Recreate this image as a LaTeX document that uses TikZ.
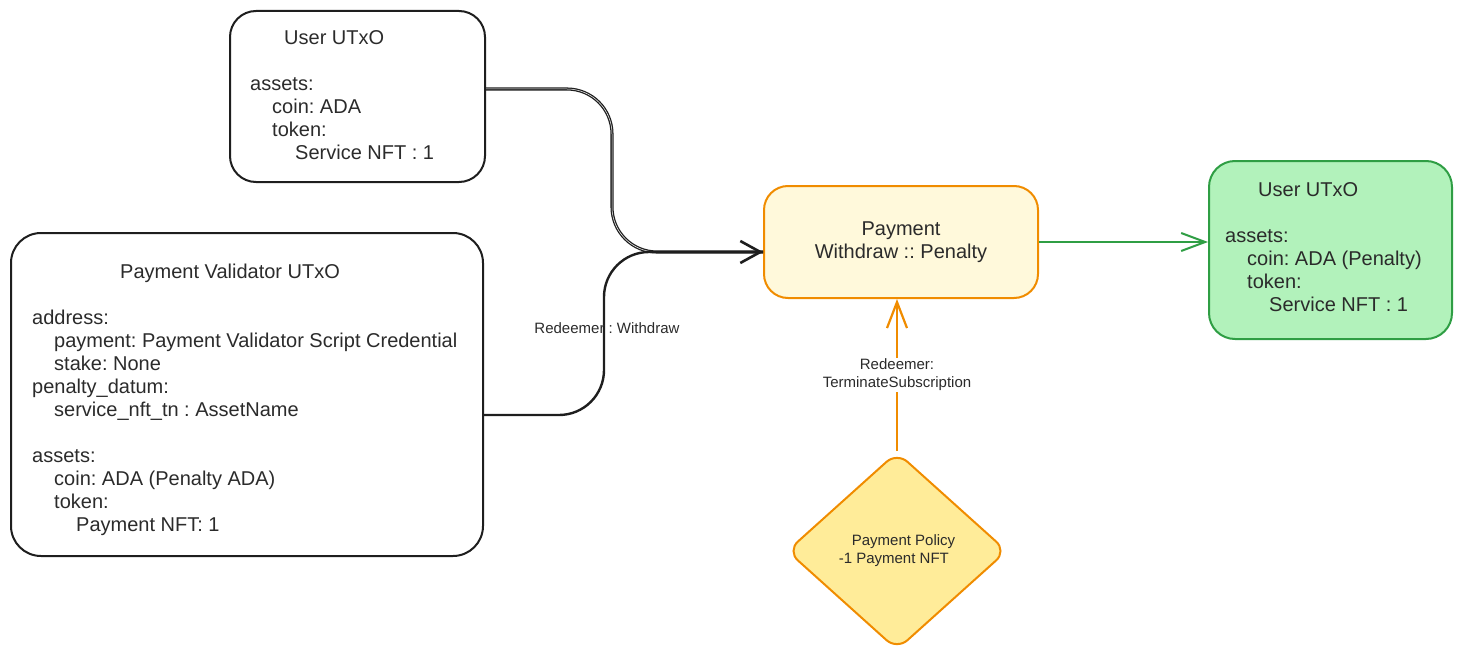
\documentclass[tikz,border=0pt]{standalone}
\usepackage{fontspec}
\setmainfont{Liberation Sans}
\usetikzlibrary{arrows.meta,shapes.geometric,calc}
\frenchspacing
\definecolor{ink}{HTML}{1E1E1E}
\definecolor{txt}{HTML}{2B2B2B}
\definecolor{orng}{HTML}{F08C00}
\definecolor{lyel}{HTML}{FFF9DB}
\definecolor{dyel}{HTML}{FFEC99}
\definecolor{gfill}{HTML}{B2F2BB}
\definecolor{gline}{HTML}{2F9E44}
\tikzset{
  utxo/.style={draw=ink, line width=2pt, rounded corners=26pt, inner sep=0pt, anchor=north west},
  big/.style={font=\fontsize{20}{23}\selectfont, text=txt, align=left, inner sep=0pt, anchor=north west},
  small/.style={font=\fontsize{15}{18}\selectfont, text=txt, align=center, inner sep=1pt},
  blackflow/.style={draw=ink, line width=2.4pt, rounded corners=45pt},
}
\begin{document}
\begin{tikzpicture}[x=1pt,y=-1pt]
\useasboundingbox (0,0) rectangle (1460,661);
% boxes
\node[utxo, minimum width=255pt, minimum height=171pt] (u) at (229,10) {};
\node[utxo, minimum width=472pt, minimum height=323pt, rounded corners=30pt] (v) at (10,232) {};
\node[draw=orng, fill=lyel, line width=2pt, rounded corners=24pt, minimum width=274pt, minimum height=112pt,
      font=\fontsize{20}{23}\selectfont, text=txt, align=center, inner sep=0pt] (pay) at (901,242)
      {Payment\\Withdraw :: Penalty};
\node[utxo, draw=gline, fill=gfill, minimum width=243pt, minimum height=178pt] (g) at (1208,160) {};
\node[diamond, draw=orng, fill=dyel, line width=2pt, rounded corners=14pt, minimum width=220pt, minimum height=198pt,
      inner sep=0pt, font=\fontsize{15}{18}\selectfont, text=txt, align=left] (dia) at (897,551)
      {\hspace*{13pt}Payment Policy\\-1 Payment NFT};
% texts
\node[big] (ut) at (250,30) {\hspace*{34pt}User UTxO\\[23pt]assets:\\\hspace*{22pt}coin: ADA\\\hspace*{22pt}token:\\\hspace*{45pt}Service NFT : 1};
\node[big] (vt) at (32,264) {\hspace*{88pt}Payment Validator UTxO\\[23pt]address:\\\hspace*{22pt}payment: Payment Validator Script Credential\\\hspace*{22pt}stake: None\\penalty\_datum:\\\hspace*{22pt}service\_nft\_tn : AssetName\\[23pt]assets:\\\hspace*{22pt}coin: ADA (Penalty ADA)\\\hspace*{22pt}token:\\\hspace*{44pt}Payment NFT: 1};
\node[big] (gt) at (1225,182) {\hspace*{33pt}User UTxO\\[23pt]assets:\\\hspace*{22pt}coin: ADA (Penalty)\\\hspace*{22pt}token:\\\hspace*{44pt}Service NFT : 1};
% junctions
\coordinate (j1) at (612,252);
\coordinate (j2) at (604,252);
% connectors
\draw[blackflow, line width=1.3pt, double=white, double distance=0.5pt] ([yshift=7.5pt]u.east) -| (j1) -- ([yshift=-10pt]pay.west);
\draw[blackflow] ([yshift=-20.5pt]v.east) -| (j2) -- ([yshift=-10pt]pay.west);
\draw[ink, line width=2.6pt, -{Straight Barb[length=20pt,width=22pt]}] ([yshift=-10pt,xshift=-60pt]pay.west) -- ([yshift=-10pt]pay.west);
\node[small] (lw) at (607,328) {Redeemer : Withdraw};
\draw[gline, line width=2pt, -{Straight Barb[length=24pt,width=18pt]}] (pay.east) -- (pay.east -| g.west);
\draw[orng, line width=2.2pt, -{Straight Barb[length=26pt,width=20pt]}] (dia.north) -- (dia.north |- pay.south)
  node[small, midway, fill=white] (lt) {Redeemer:\\TerminateSubscription};
\end{tikzpicture}
\end{document}
